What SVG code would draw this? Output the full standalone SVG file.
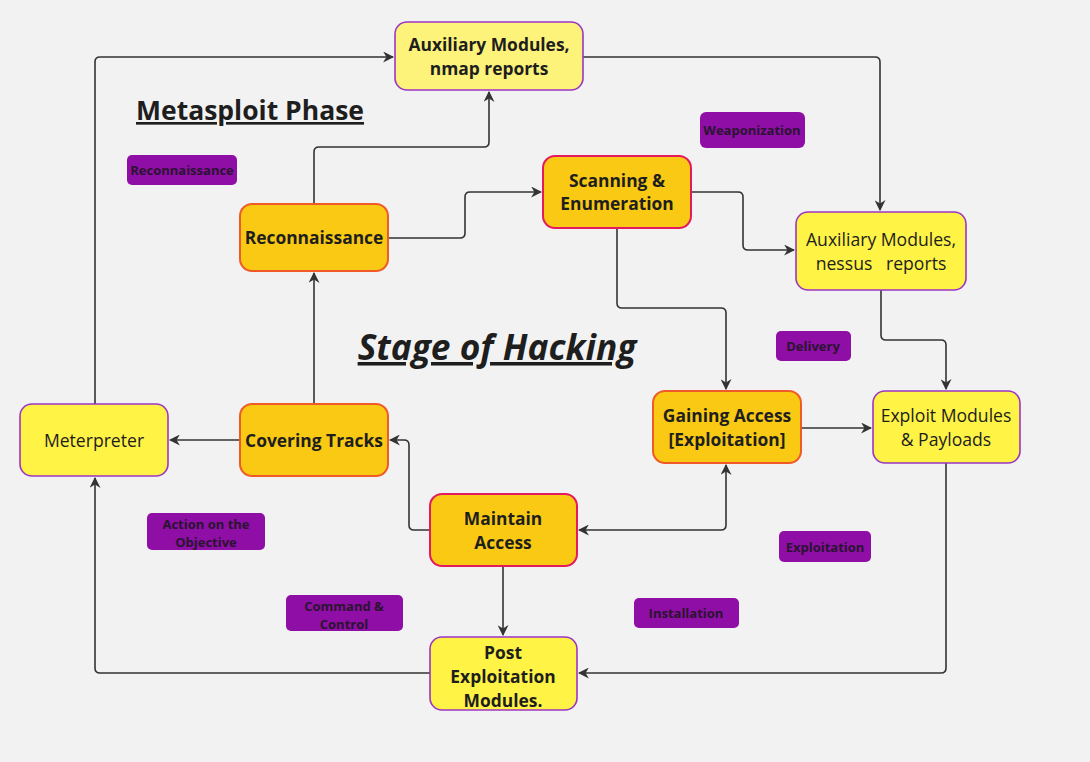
<svg xmlns="http://www.w3.org/2000/svg" width="1090" height="762" viewBox="0 0 1090 762">
<defs>
<marker id="ah" viewBox="0 0 10 10" refX="9" refY="5" markerWidth="11" markerHeight="11" markerUnits="userSpaceOnUse" orient="auto-start-reverse">
<path d="M0,0 L10,5 L0,10 L3,5 z" fill="#333"/>
</marker>
<style>
.bg{fill:#f2f2f2}
.or{fill:#f9c913;stroke:#f05a28;stroke-width:2}
.pk{fill:#f9c913;stroke:#e5195e;stroke-width:2}
.ye{fill:#fff345;stroke:#9c35c4;stroke-width:1.6}
.yl{fill:#fdf37a;stroke:#9c35c4;stroke-width:1.6}
.pu{fill:#8f0ea6}
.tb{font-family:"Open Sans","Noto Sans",sans-serif;font-weight:bold;font-size:17.4px;fill:#1e1e1e;text-anchor:middle}
.tn{font-family:"Open Sans","Noto Sans",sans-serif;font-size:17.6px;fill:#1e1e1e;text-anchor:middle;white-space:pre}
.tl{font-family:"Open Sans","Noto Sans",sans-serif;font-weight:bold;font-size:13px;fill:#2a1430;text-anchor:middle}
.c{fill:none;stroke:#333;stroke-width:1.6;stroke-linejoin:round}
</style>
</defs>
<rect class="bg" x="0" y="0" width="1090" height="762"/>

<text x="250" y="120" font-family="'Open Sans','Noto Sans',sans-serif" font-weight="bold" font-size="26.5" fill="#1e1e1e" text-anchor="middle" text-decoration="underline">Metasploit Phase</text>
<text x="497" y="360" font-family="'Open Sans','Noto Sans',sans-serif" font-weight="bold" font-style="italic" font-size="35.3" fill="#1e1e1e" text-anchor="middle" text-decoration="underline">Stage of Hacking</text>

<g id="connectors">
<path class="c" marker-end="url(#ah)" d="M95,404 V62 Q95,57 100,57 H393"/>
<path class="c" marker-end="url(#ah)" d="M314,204 V152 Q314,147 319,147 H484 Q489,147 489,142 V92"/>
<path class="c" marker-end="url(#ah)" d="M388,238 H460 Q465,238 465,233 V197 Q465,192 470,192 H541"/>
<path class="c" marker-end="url(#ah)" d="M583,57 H875 Q880,57 880,62 V210"/>
<path class="c" marker-end="url(#ah)" d="M691,192 H738 Q743,192 743,197 V245 Q743,250 748,250 H794"/>
<path class="c" marker-end="url(#ah)" d="M617,228 V303 Q617,308 622,308 H721 Q726,308 726,313 V389"/>
<path class="c" marker-end="url(#ah)" d="M881,290 V335 Q881,340 886,340 H941 Q946,340 946,345 V389"/>
<path class="c" marker-end="url(#ah)" d="M801,428 H871"/>
<path class="c" marker-end="url(#ah)" d="M946,463 V668 Q946,673 941,673 H579"/>
<path class="c" marker-start="url(#ah)" marker-end="url(#ah)" d="M579,530 H721 Q726,530 726,525 V465"/>
<path class="c" marker-end="url(#ah)" d="M430,530 H414 Q409,530 409,525 V445 Q409,440 404,440 H390"/>
<path class="c" marker-end="url(#ah)" d="M503,566 V635"/>
<path class="c" marker-end="url(#ah)" d="M314,404 V273"/>
<path class="c" marker-end="url(#ah)" d="M240,440 H170"/>
<path class="c" marker-end="url(#ah)" d="M430,673 H100 Q95,673 95,668 V478"/>
</g>

<g id="aux-nmap"><rect class="yl" x="395" y="22" width="188" height="68" rx="12"/>
<text class="tb" x="489" y="51">Auxiliary Modules,</text><text class="tb" x="489" y="75">nmap reports</text></g>

<g id="reconnaissance"><rect class="or" x="240" y="204" width="148" height="67" rx="12"/>
<text class="tb" x="314" y="244">Reconnaissance</text></g>

<g id="scanning"><rect class="pk" x="543" y="156" width="148" height="72" rx="12"/>
<text class="tb" x="617" y="187">Scanning &amp;</text><text class="tb" x="617" y="210">Enumeration</text></g>

<g id="aux-nessus"><rect class="ye" x="796" y="212" width="170" height="78" rx="12"/>
<text class="tn" x="881" y="246">Auxiliary Modules,</text><text class="tn" x="881" y="270" xml:space="preserve">nessus   reports</text></g>

<g id="gaining-access"><rect class="or" x="653" y="391" width="148" height="72" rx="12"/>
<text class="tb" x="727" y="422">Gaining Access</text><text class="tb" x="727" y="446">[Exploitation]</text></g>

<g id="exploit-modules"><rect class="ye" x="873" y="391" width="147" height="72" rx="12"/>
<text class="tn" x="946" y="422">Exploit Modules</text><text class="tn" x="946" y="446">&amp; Payloads</text></g>

<g id="meterpreter"><rect class="ye" x="20" y="404" width="148" height="72" rx="12"/>
<text class="tn" x="94" y="447">Meterpreter</text></g>

<g id="covering-tracks"><rect class="or" x="240" y="404" width="148" height="72" rx="12"/>
<text class="tb" x="314" y="447">Covering Tracks</text></g>

<g id="maintain-access"><rect class="pk" x="430" y="494" width="147" height="72" rx="12"/>
<text class="tb" x="503" y="525">Maintain</text><text class="tb" x="503" y="549">Access</text></g>

<g id="post-exploitation"><rect class="ye" x="430" y="637" width="147" height="73" rx="12"/>
<text class="tb" x="503" y="659">Post</text><text class="tb" x="503" y="683">Exploitation</text><text class="tb" x="503" y="707">Modules.</text></g>

<g id="lbl-reconnaissance"><rect class="pu" x="127" y="155" width="110" height="30" rx="5"/><text class="tl" x="182" y="175">Reconnaissance</text></g>
<g id="lbl-weaponization"><rect class="pu" x="700" y="112" width="105" height="36" rx="6"/><text class="tl" x="752" y="135">Weaponization</text></g>
<g id="lbl-delivery"><rect class="pu" x="776" y="331" width="75" height="30" rx="5"/><text class="tl" x="813" y="351">Delivery</text></g>
<g id="lbl-action"><rect class="pu" x="147" y="513" width="118" height="37" rx="5"/><text class="tl" x="206" y="529">Action on the</text><text class="tl" x="206" y="547">Objective</text></g>
<g id="lbl-exploitation"><rect class="pu" x="779" y="531" width="92" height="31" rx="5"/><text class="tl" x="825" y="552">Exploitation</text></g>
<g id="lbl-c2"><rect class="pu" x="286" y="595" width="117" height="36" rx="5"/><text class="tl" x="344" y="611">Command &amp;</text><text class="tl" x="344" y="629">Control</text></g>
<g id="lbl-installation"><rect class="pu" x="634" y="598" width="105" height="30" rx="5"/><text class="tl" x="686" y="618">Installation</text></g>
</svg>
